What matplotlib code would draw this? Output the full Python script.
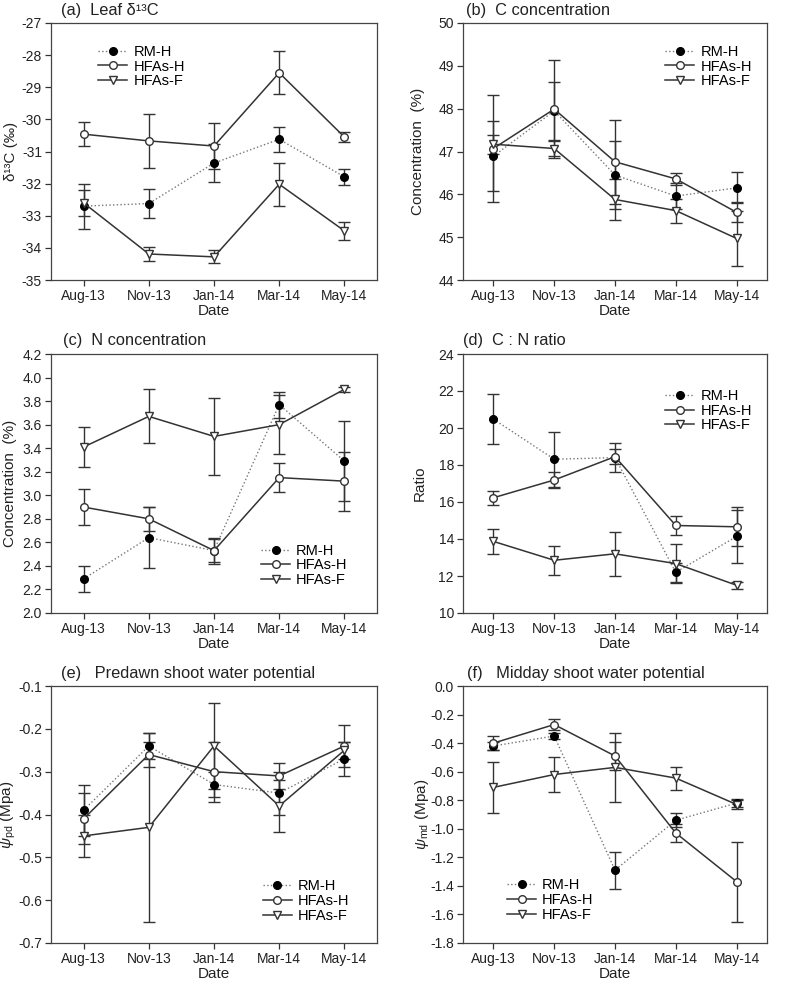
import numpy as np
import matplotlib
matplotlib.use('Agg')
import matplotlib.pyplot as plt

plt.rcParams['font.family'] = ['Liberation Sans', 'DejaVu Sans']
plt.rcParams['mathtext.fontset'] = 'custom'
plt.rcParams['mathtext.rm'] = 'Liberation Sans'
plt.rcParams['mathtext.it'] = 'Liberation Sans:italic'

dates = ['Aug-13', 'Nov-13', 'Jan-14', 'Mar-14', 'May-14']
series_names = ['RM-H', 'HFAs-H', 'HFAs-F']

# (a) leaf d13C
d13c_rm = [-32.70, -32.62, -31.36, -30.62, -31.79]
d13c_rm_err = [0.70, 0.44, 0.60, 0.38, 0.26]
d13c_hh = [-30.46, -30.67, -30.83, -28.55, -30.55]
d13c_hh_err = [0.37, 0.83, 0.72, 0.67, 0.15]
d13c_hf = [-32.60, -34.19, -34.28, -32.02, -33.47]
d13c_hf_err = [0.40, 0.22, 0.20, 0.67, 0.29]

# (b) C concentration
c_rm = [46.89, 47.95, 46.45, 45.96, 46.15]
c_rm_err = [0.82, 0.68, 0.80, 0.30, 0.36]
c_hh = [47.07, 47.99, 46.76, 46.36, 45.58]
c_hh_err = [1.25, 1.14, 0.98, 0.14, 0.23]
c_hf = [47.17, 47.07, 45.88, 45.62, 44.97]
c_hf_err = [0.22, 0.17, 0.47, 0.28, 0.65]

# (c) N concentration
n_rm = [2.29, 2.64, 2.53, 3.77, 3.29]
n_rm_err = [0.11, 0.26, 0.11, 0.11, 0.34]
n_hh = [2.90, 2.80, 2.53, 3.15, 3.12]
n_hh_err = [0.15, 0.10, 0.10, 0.12, 0.25]
n_hf = [3.41, 3.67, 3.50, 3.60, 3.90]
n_hf_err = [0.17, 0.23, 0.33, 0.25, 0.02]

# (d) C:N ratio
cn_rm = [20.48, 18.31, 18.40, 12.20, 14.14]
cn_rm_err = [1.35, 1.50, 0.80, 0.50, 1.43]
cn_hh = [16.23, 17.19, 18.45, 14.73, 14.66]
cn_hh_err = [0.39, 0.45, 0.40, 0.53, 1.05]
cn_hf = [13.87, 12.85, 13.20, 12.67, 11.50]
cn_hf_err = [0.66, 0.77, 1.20, 1.07, 0.20]

# (e) predawn water potential
pd_rm = [-0.39, -0.24, -0.33, -0.35, -0.27]
pd_rm_err = [0.06, 0.03, 0.03, 0.05, 0.04]
pd_hh = [-0.41, -0.26, -0.30, -0.31, -0.24]
pd_hh_err = [0.06, 0.03, 0.07, 0.03, 0.05]
pd_hf = [-0.45, -0.43, -0.24, -0.38, -0.25]
pd_hf_err = [0.05, 0.22, 0.10, 0.06, 0.02]

# (f) midday water potential
md_rm = [-0.42, -0.35, -1.29, -0.94, -0.82]
md_rm_err = [0.03, 0.02, 0.13, 0.05, 0.03]
md_hh = [-0.40, -0.27, -0.49, -1.03, -1.37]
md_hh_err = [0.05, 0.04, 0.10, 0.06, 0.28]
md_hf = [-0.71, -0.62, -0.57, -0.645, -0.83]
md_hf_err = [0.18, 0.12, 0.24, 0.08, 0.03]

DARK = '#333333'
styles = [
    dict(ls=':', color='#777777', marker='o', mfc='black', mec='black', lw=1.0),
    dict(ls='-', color=DARK, marker='o', mfc='white', mec=DARK, lw=1.1),
    dict(ls='-', color=DARK, marker='v', mfc='white', mec=DARK, lw=1.1),
]

fig = plt.figure(figsize=(7.87, 9.84), dpi=100)
W, H = 787.0, 984.0


def make_ax(x0, x1, y0, y1):
    return fig.add_axes([x0 / W, 1 - y1 / H, (x1 - x0) / W, (y1 - y0) / H])


def fmt_tick(v, nd):
    s = f'{v:.{nd}f}'
    if float(s) == 0:
        s = s.lstrip('-')
    return s


def panel(ax, data, title, title_x, ylabel, ylab_x, ylim, yticks, nd,
          leg_loc, leg_anchor):
    x = np.arange(len(dates))
    for name, (y, err), st in zip(series_names, data, styles):
        ax.errorbar(x, y, yerr=err, fmt='none', ecolor=DARK, elinewidth=1.0,
                    capsize=4.5, capthick=1.0, zorder=2)
        ax.plot(x, y, ls=st['ls'], color=st['color'], lw=st['lw'],
                marker=st['marker'], ms=5.5, mfc=st['mfc'], mec=st['mec'],
                mew=1.0, label=name, zorder=3)
    ax.set_xlim(-0.5, 4.5)
    ax.set_xticks(x)
    ax.set_xticklabels(dates)
    ax.set_ylim(*ylim)
    ax.set_yticks(yticks)
    ax.set_yticklabels([fmt_tick(v, nd) for v in yticks])
    ax.tick_params(direction='out', length=4, width=0.9, labelsize=10,
                   colors=DARK, labelcolor='#222222', pad=2.5)
    for s in ax.spines.values():
        s.set_color('#444444')
        s.set_linewidth(0.9)
    ax.set_xlabel('Date', fontsize=11, labelpad=1, color='#222222')
    ax.set_ylabel(ylabel, fontsize=11, color='#222222')
    ax.yaxis.set_label_coords(ylab_x, 0.5)
    ax.text(title_x, 1.033, title, transform=ax.transAxes, fontsize=11.8,
            ha='left', va='baseline', color='#222222')
    ax.legend(loc=leg_loc, bbox_to_anchor=leg_anchor, frameon=False,
              fontsize=10.5, handlelength=2.0, handletextpad=0.4,
              labelspacing=0.05, borderpad=0, borderaxespad=0)


ax_a = make_ax(51, 377, 23, 280)
ax_b = make_ax(463, 767, 23, 280)
ax_c = make_ax(51, 377, 354, 613)
ax_d = make_ax(463, 767, 354, 613)
ax_e = make_ax(51, 377, 686, 943)
ax_f = make_ax(463, 767, 686, 943)

panel(ax_a, [(d13c_rm, d13c_rm_err), (d13c_hh, d13c_hh_err), (d13c_hf, d13c_hf_err)],
      '(a)  Leaf δ¹³C', 0.03, 'δ¹³C (‰)', -0.1, (-35, -27),
      np.arange(-35, -26, 1), 0, 'upper left', (0.145, 0.915))
panel(ax_b, [(c_rm, c_rm_err), (c_hh, c_hh_err), (c_hf, c_hf_err)],
      '(b)  C concentration', 0.01, 'Concentration  (%)', -0.125, (44, 50),
      np.arange(44, 51, 1), 0, 'upper right', (0.95, 0.915))
panel(ax_c, [(n_rm, n_rm_err), (n_hh, n_hh_err), (n_hf, n_hf_err)],
      '(c)  N concentration', 0.037, 'Concentration  (%)', -0.105, (2.0, 4.2),
      np.arange(2.0, 4.21, 0.2), 1, 'lower right', (0.91, 0.1))
panel(ax_d, [(cn_rm, cn_rm_err), (cn_hh, cn_hh_err), (cn_hf, cn_hf_err)],
      '(d)  C : N ratio', 0.0, 'Ratio', -0.118, (10, 24),
      np.arange(10, 25, 2), 0, 'upper right', (0.95, 0.865))
panel(ax_e, [(pd_rm, pd_rm_err), (pd_hh, pd_hh_err), (pd_hf, pd_hf_err)],
      '(e)   Predawn shoot water potential', 0.03, r'$\psi_{\rm pd}$ (Mpa)', -0.1,
      (-0.7, -0.1), np.arange(-0.7, -0.09, 0.1), 1, 'lower right', (0.915, 0.078))
panel(ax_f, [(md_rm, md_rm_err), (md_hh, md_hh_err), (md_hf, md_hf_err)],
      '(f)   Midday shoot water potential', 0.013, r'$\psi_{\rm md}$ (Mpa)', -0.105,
      (-1.8, 0.0), np.arange(-1.8, 0.01, 0.2), 1, 'lower left', (0.145, 0.082))

fig.savefig('out.png', dpi=100)
